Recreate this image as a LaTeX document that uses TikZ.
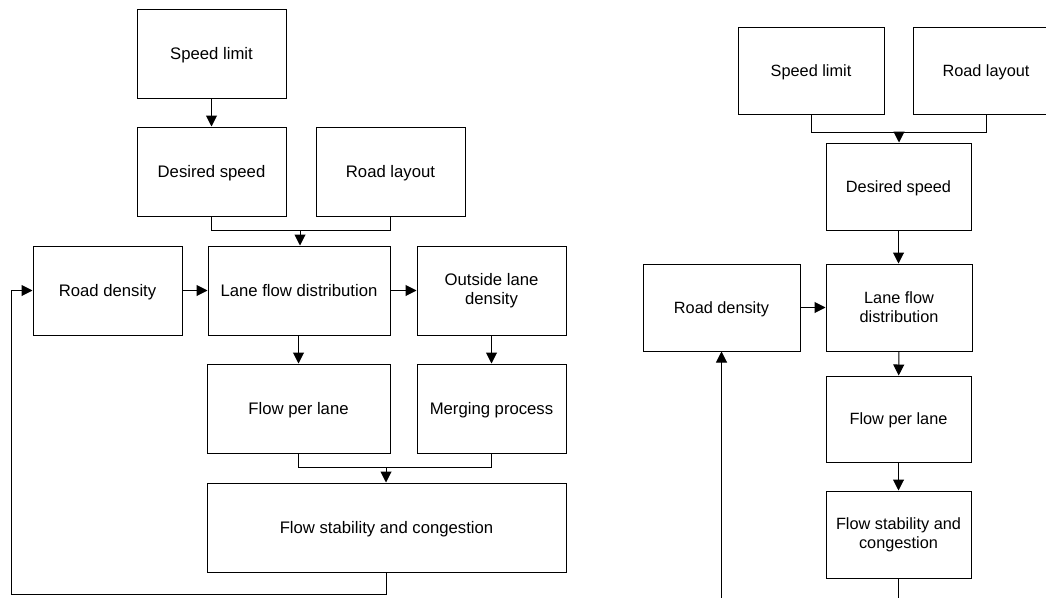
\documentclass[tikz,border=0pt]{standalone}
\usepackage{fontspec}
\setmainfont{Liberation Sans}
\usetikzlibrary{arrows.meta}
\begin{document}
\begin{tikzpicture}[x=1pt,y=-1pt,
  mbox/.style={draw=black,line width=1pt,rectangle,align=center,inner sep=0pt,
    font=\fontsize{16.7}{19.2}\selectfont},
  box/.style={mbox,text height=12pt,text depth=0pt},
  rmbox/.style={mbox,font=\fontsize{16.3}{19}\selectfont},
  rbox/.style={rmbox,text height=11.7pt,text depth=0pt},
  conn/.style={draw=black,line width=1pt},
  arr/.style={conn,-{Triangle[length=11pt,width=11pt]}}]
\clip (0,0) rectangle (1046,597);
\fill[white] (0,0) rectangle (1046,597);
% ---- left diagram ----
\node[box,minimum width=149pt,minimum height=89pt] (sl) at (211.5,53.5) {Speed limit};
\node[box,minimum width=149pt,minimum height=89pt] (ds) at (211.5,171.5) {Desired speed};
\node[box,minimum width=149pt,minimum height=89pt] (rl) at (390.5,171.5) {Road layout};
\node[box,minimum width=149pt,minimum height=89pt] (rd) at (107.5,290.5) {Road density};
\node[box,minimum width=182pt,minimum height=89pt] (lfd) at (299,290.5) {Lane flow distribution};
\node[mbox,minimum width=149pt,minimum height=89pt] (old) at (491.5,290.5) {Outside lane\\density};
\node[box,minimum width=183pt,minimum height=89pt] (fpl) at (298.5,408.5) {Flow per lane};
\node[box,minimum width=149pt,minimum height=89pt] (mp) at (491.5,408.5) {Merging process};
\node[box,minimum width=359pt,minimum height=89pt] (fsc) at (386.5,527.5) {Flow stability and congestion};
\coordinate (j1) at (300,230.5);
\coordinate (j3) at (386,467.5);
\coordinate (fb1) at (386,594);
\coordinate (fb2) at (11,594);
\path[arr] (sl) -- (ds);
\path[conn] (ds.south) |- (j1) -| (rl.south);
\path[arr] (j1) -- (lfd.north -| j1);
\path[arr] (rd) -- (lfd);
\path[arr] (lfd) -- (old);
\path[arr] (lfd.south -| fpl.north) -- (fpl.north);
\path[arr] (old) -- (mp);
\path[conn] (fpl.south) |- (j3) -| (mp.south);
\path[arr] (j3) -- (fsc.north -| j3);
\path[arr] (fsc.south -| fb1) -- (fb1) -- (fb2) |- (rd.west);
% ---- right diagram ----
\node[rbox,minimum width=146pt,minimum height=87pt] (sl2) at (811,70.5) {Speed limit};
\node[rbox,minimum width=146pt,minimum height=87pt] (rl2) at (986,70.5) {Road layout};
\node[rbox,minimum width=145pt,minimum height=87pt] (ds2) at (898.5,186.5) {Desired speed};
\node[rbox,minimum width=157pt,minimum height=87pt] (rd2) at (721.5,307.5) {Road density};
\node[rmbox,minimum width=146pt,minimum height=87pt] (lfd2) at (899,307.5) {Lane flow\\distribution};
\node[rbox,minimum width=145pt,minimum height=86pt] (fpl2) at (898.5,419) {Flow per lane};
\node[rmbox,minimum width=145pt,minimum height=87pt] (fsc2) at (898.5,534.5) {Flow stability and\\congestion};
\coordinate (j2) at (899,132.5);
\coordinate (lp1) at (898.5,620);
\coordinate (lp2) at (721.5,620);
\path[conn] (sl2.south) |- (j2) -| (rl2.south);
\path[arr] (j2) -- (ds2.north -| j2);
\path[arr] (ds2.south) -- (lfd2.north -| ds2.south);
\path[arr] (rd2) -- (lfd2);
\path[arr] (lfd2) -- (fpl2);
\path[arr] (fpl2) -- (fsc2);
\path[arr] (fsc2.south) -- (lp1) -- (lp2) -- (rd2.south);
\end{tikzpicture}
\end{document}
